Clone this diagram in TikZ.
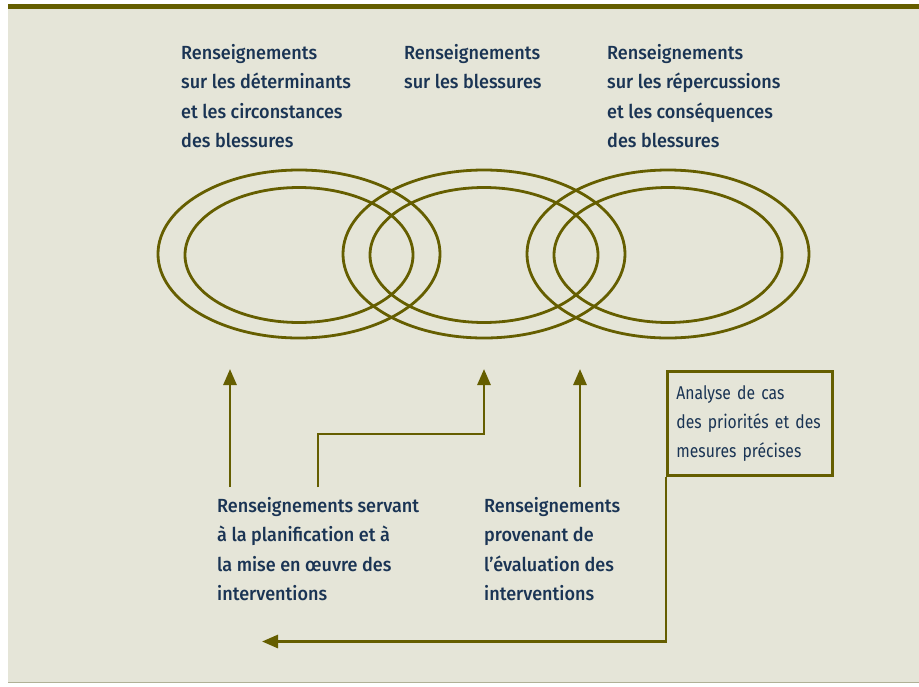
\documentclass[tikz,border=0pt]{standalone}
\usepackage{fontspec}
\usetikzlibrary{arrows.meta}
\newfontfamily\labfont[FakeStretch=0.95]{Fira Sans Medium}
\newfontfamily\boxfont[FakeStretch=0.85]{Fira Sans}
\definecolor{ol}{RGB}{101,94,0}
\definecolor{bg}{RGB}{229,229,216}
\definecolor{navy}{RGB}{26,52,84}
\definecolor{rule}{RGB}{176,176,150}
\tikzset{
  ring/.style={draw=ol, line width=2.8pt},
  lab/.style={anchor=north west, inner sep=0pt, align=left, text=navy,
    font=\labfont\fontsize{19}{29.4}\selectfont},
  boxlab/.style={draw=ol, line width=2.8pt, inner xsep=9pt, text width=147pt,
    minimum height=104pt, align=left, text=navy, anchor=north west,
    font=\boxfont\fontsize{18.5}{29.2}\selectfont},
  arr/.style={draw=ol, line width=2.8pt, -{Triangle[width=13pt,length=16pt]}},
}
\begin{document}
\begin{tikzpicture}[x=1pt,y=-1pt]
\useasboundingbox (0,0) rectangle (919,686);
\fill[bg] (8,4) rectangle (919,683);
\fill[ol] (8,4) rectangle (919,8.5);
\draw[rule, line width=1pt] (8,682.5) -- (919,682.5);
% ellipses
\draw[ring] (299,254) ellipse [x radius=141, y radius=84];
\draw[ring] (299,255) ellipse [x radius=114, y radius=67.5];
\draw[ring] (484,254) ellipse [x radius=141, y radius=84];
\draw[ring] (484,255) ellipse [x radius=114, y radius=67.5];
\draw[ring] (668,254) ellipse [x radius=141, y radius=84];
\draw[ring] (668,255) ellipse [x radius=114, y radius=67.5];
% top labels
\node[lab] (t1) at (181,44) {Renseignements\\sur les déterminants\\et les circonstances\\des blessures};
\node[lab] (t2) at (404,44) {Renseignements\\sur les blessures};
\node[lab] (t3) at (607,44) {Renseignements\\sur les répercussions\\et les conséquences\\des blessures};
% bottom labels
\node[lab] (b1) at (217,497) {Renseignements servant\\à la planification et à\\la mise en œuvre des\\interventions};
\node[lab] (b2) at (484,497) {Renseignements\\provenant de\\l’évaluation des\\interventions};
% box
\node[boxlab] (bx) at (666,370) {Analyse de cas\\des priorités et des\\mesures précises};
% arrow end points
\coordinate (s1) at (230,487);
\coordinate (e1) at (230,369);
\coordinate (s2) at (318,487);
\coordinate (e2) at (484,369);
\coordinate (s3) at (580,487);
\coordinate (e3) at (580,369);
\coordinate (e4) at (262,641.5);
\draw[arr] (s1) -- (e1);
\draw[arr] (s2) -- (318,434) -| (e2);
\draw[arr] (s3) -- (e3);
\draw[arr] (bx.south west) -- (bx.south west |- e4) -- (e4);
\end{tikzpicture}
\end{document}
